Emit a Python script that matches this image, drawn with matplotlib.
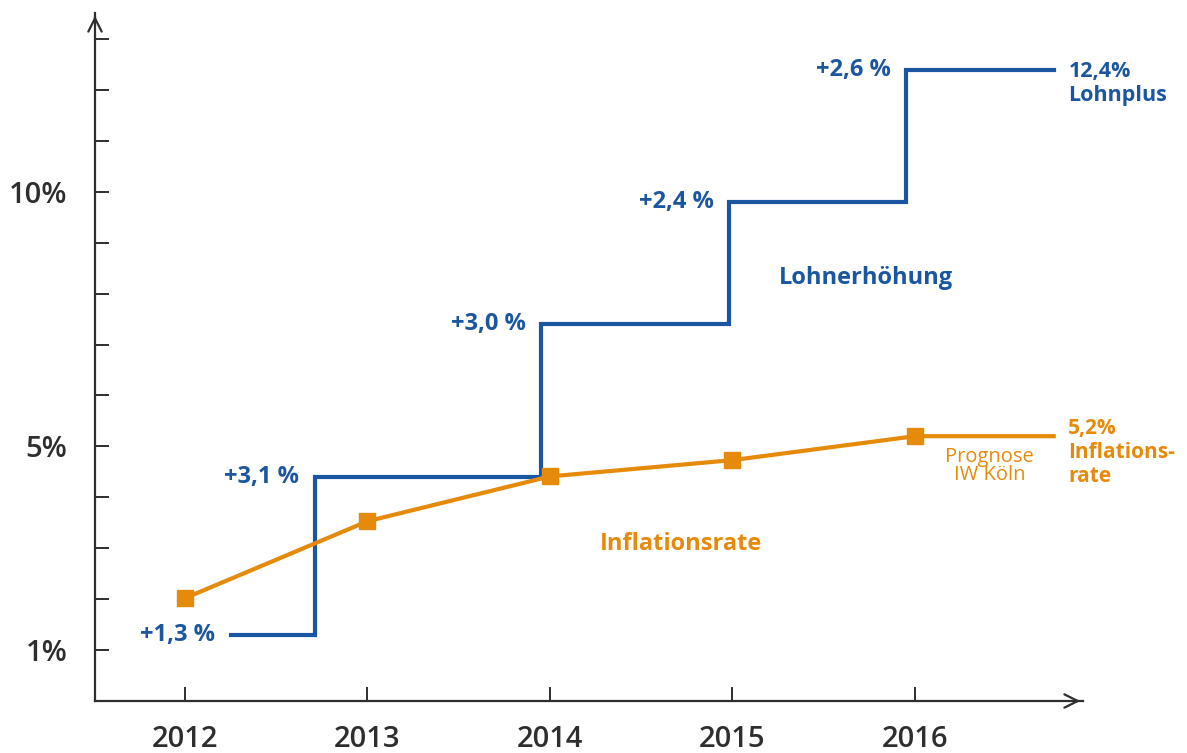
import matplotlib.pyplot as plt

# Lohnerhöhung (Stufen) und Inflationsrate 2012-2016
step_x = [2012.25, 2012.71, 2013.95, 2014.98, 2015.95]
step_end = 2016.76
lohn_kumuliert = [1.3, 4.4, 7.4, 9.8, 12.4]
lohn_labels = ['+1,3 %', '+3,1 %', '+3,0 %', '+2,4 %', '+2,6 %']

jahre = [2012, 2013, 2014, 2015, 2016]
inflation = [2.02, 3.53, 4.41, 4.73, 5.2]

y_ticks = [1, 5, 10]
y_labels = ['1%', '5%', '10%']

blau = '#1b56a0'
orange = '#e68a0c'
grau = '#2e2e2e'

plt.rcParams['font.family'] = ['Open Sans', 'DejaVu Sans']

fig = plt.figure(figsize=(11.87, 7.53), dpi=100)
ax = fig.add_axes([95 / 1187, 52 / 753, (1083 - 95) / 1187, (701 - 13) / 753])

px_jahr = 182.5
x0 = 2012 - (185 - 95) / px_jahr
x1 = 2012 + (1083 - 185) / px_jahr
ax.set_xlim(x0, x1)
y_top = 1 + (651 - 13) / 51
ax.set_ylim(0, y_top)

for s in ['top', 'right']:
    ax.spines[s].set_visible(False)
for s in ['left', 'bottom']:
    ax.spines[s].set_color(grau)
    ax.spines[s].set_linewidth(1.6)

# Pfeilspitzen
ax.annotate('', xy=(0, 1), xytext=(0, 0.99), xycoords='axes fraction',
            arrowprops=dict(arrowstyle='->', lw=1.6, color=grau, mutation_scale=24))
ax.annotate('', xy=(1, 0), xytext=(0.99, 0), xycoords='axes fraction',
            arrowprops=dict(arrowstyle='->', lw=1.6, color=grau, mutation_scale=24))

ax.set_yticks(range(1, 14), minor=True)
ax.set_yticks(y_ticks)
ax.set_yticklabels(y_labels, fontweight='semibold')
ax.tick_params(axis='y', which='both', direction='in', length=10, width=1.4,
               color=grau, labelsize=21, labelcolor=grau, pad=20)
ax.set_xticks(jahre)
ax.set_xticklabels([str(j) for j in jahre], fontweight='semibold')
ax.tick_params(axis='x', direction='in', length=10, width=1.4, color=grau,
               labelsize=21, labelcolor=grau, pad=17)

# Lohnlinie
ax.step(step_x + [step_end], lohn_kumuliert + [lohn_kumuliert[-1]], where='post',
        color=blau, lw=3, solid_joinstyle='miter')
for x, y, t in zip(step_x, lohn_kumuliert, lohn_labels):
    ax.annotate(t, xy=(x, y), xytext=(-11, 0), textcoords='offset points',
                ha='right', va='center', color=blau, fontsize=17, fontweight='bold')

# Inflation
ax.plot(jahre + [step_end], inflation + [inflation[-1]], color=orange, lw=3)
ax.plot(jahre, inflation, 's', color=orange, markersize=12)

ax.text(2015.73, 8.3, 'Lohnerhöhung', color=blau, fontsize=17, fontweight='bold',
        ha='center', va='center')
ax.text(2014.72, 3.08, 'Inflationsrate', color=orange, fontsize=17, fontweight='bold',
        ha='center', va='center')
ax.text(2016.41, 4.62, 'Prognose\nIW Köln', color=orange, fontsize=14.5,
        ha='center', va='center', linespacing=0.85)
ax.text(2016.84, 12.12, '12,4%\nLohnplus', color=blau, fontsize=15.5, fontweight='bold',
        ha='left', va='center', linespacing=1.2)
ax.text(2016.84, 4.88, '5,2%\nInflations-\nrate', color=orange, fontsize=15,
        fontweight='bold', ha='left', va='center', linespacing=1.2)

fig.savefig('out.png', dpi=100)
